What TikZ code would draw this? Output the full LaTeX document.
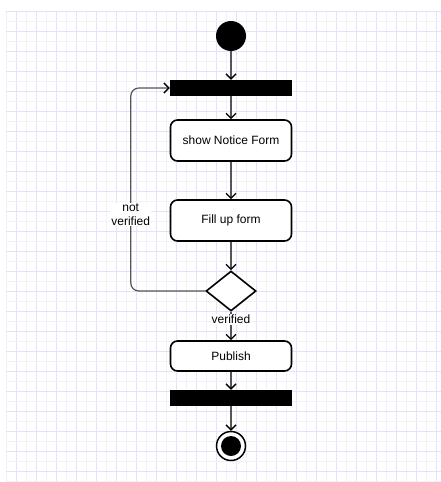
\documentclass[tikz,border=0pt]{standalone}
\usepackage{fontspec}
\setmainfont{Liberation Sans}
\usetikzlibrary{shapes.geometric,arrows.meta}
\definecolor{gridmajor}{HTML}{E2E2FC}
\definecolor{gridminor}{HTML}{F1F1FC}
\definecolor{flowgray}{HTML}{555555}
\begin{document}
\begin{tikzpicture}[x=1pt, y=1pt, node distance=52pt,
    font=\fontsize{12pt}{14pt}\selectfont]
      \useasboundingbox (0,0) rectangle (441,-482);
      % Grid
      \foreach \gx in {6,16,...,436} {
        \pgfmathtruncatemacro{\gm}{mod(\gx-6,20)}
        \ifnum\gm=0 \def\gcol{gridminor}\else \def\gcol{gridmajor}\fi
        \draw[\gcol, line width=1pt] (\gx,-11) -- (\gx,-482);
      }
      \foreach \gy in {11,21,...,481} {
        \pgfmathtruncatemacro{\gm}{mod(\gy-11,20)}
        \ifnum\gm=0 \def\gcol{gridmajor}\else \def\gcol{gridminor}\fi
        \draw[\gcol, line width=1pt] (6,-\gy) -- (441,-\gy);
      }
      % Styles
      \tikzstyle{block} = [rectangle, draw=black, fill=white, line width=1.6pt,
                          text centered, rounded corners=7pt, minimum width=121pt, minimum height=41pt]
      \tikzstyle{bar} = [rectangle, fill=black, inner sep=0pt, minimum width=122pt, minimum height=16pt]
      \tikzstyle{initial} = [circle, fill=black, inner sep=0pt, minimum size=30pt]
      \tikzstyle{final} = [circle, draw=black, fill=white, line width=1.5pt, inner sep=0pt, minimum size=29pt,
                          path picture={\fill[black] (path picture bounding box.center) circle (10pt);}]
      \tikzstyle{decision} = [diamond, draw=black, fill=white, line width=1.6pt, inner sep=0pt,
                          minimum width=50pt, minimum height=40pt]
      \tikzstyle{guard} = [fill=white, inner sep=1pt, align=center]
      \tikzstyle{flow} = [draw=flowgray, line width=1.2pt,
                          -{Straight Barb[color=black, length=5pt, width=10pt, line width=1.3pt]}]
      % Nodes
      \node[initial] (start) at (231,-36) {};
      \node[bar, below of= start] (fork) {};
      \node[block, below of= fork, node distance=52.5pt] (notice) {show Notice Form};
      \node[block, below of= notice, node distance=80pt] (fillup) {Fill up form};
      \node[decision, below of= fillup, node distance=70.5pt] (check) {};
      \node[block, below of= check, node distance=65pt, minimum height=30pt] (publish) {Publish};
      \node[bar, below of= publish, node distance=42pt] (join) {};
      \node[final, below of= join, node distance=48pt] (stop) {};

      % Arrows
      \draw[flow] (start) -- (fork);
      \draw[flow] (fork) -- (notice);
      \draw[flow] (notice) -- (fillup);
      \draw[flow] (fillup) -- (check);
      \draw[flow] (check) -- node[guard, pos=0.27] (verified) {verified} (publish);
      \draw[flow] (publish) -- (join);
      \draw[flow] (join) -- (stop);
      \draw[flow, rounded corners=8pt] (check.west) -| ([xshift=-39pt]fork.west) -- (fork.west);
      \node[guard] (notverified) at ([xshift=-39pt, yshift=6pt]fillup.west) {not\\verified};
  \end{tikzpicture}
\end{document}
